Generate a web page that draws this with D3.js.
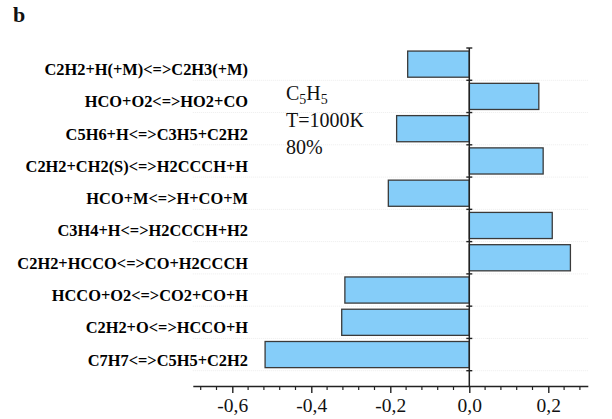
<!DOCTYPE html>
<html>
<head>
<meta charset="utf-8">
<script src="https://cdn.jsdelivr.net/npm/d3@7"></script>
<style>
  html, body { margin: 0; padding: 0; background: #fff; }
  svg { display: block; }
</style>
</head>
<body>
<svg id="chart" width="612" height="419"></svg>
<script>
// ---- data ----
const reactions = [
  "C2H2+H(+M)<=>C2H3(+M)",
  "HCO+O2<=>HO2+CO",
  "C5H6+H<=>C3H5+C2H2",
  "C2H2+CH2(S)<=>H2CCCH+H",
  "HCO+M<=>H+CO+M",
  "C3H4+H<=>H2CCCH+H2",
  "C2H2+HCCO<=>CO+H2CCCH",
  "HCCO+O2<=>CO2+CO+H",
  "C2H2+O<=>HCCO+H",
  "C7H7<=>C5H5+C2H2"
];
const sensitivity = [-0.156, 0.176, -0.184, 0.187, -0.205, 0.210, 0.256, -0.315, -0.323, -0.517];
const xTickValues = [-0.6, -0.4, -0.2, 0.0, 0.2];
const xTickLabels = ["-0,6", "-0,4", "-0,2", "0,0", "0,2"];
const xMinorTicks = [-0.68, -0.64, -0.56, -0.52, -0.48, -0.44, -0.36, -0.32, -0.28, -0.24,
                     -0.16, -0.12, -0.08, -0.04, 0.04, 0.08, 0.12, 0.16, 0.24, 0.28];
const annotation = { species: ["C", "5", "H", "5"], lines: ["T=1000K", "80%"] };

// ---- layout ----
const svg = d3.select("#chart");
const axisY = 386;
const plotTop = 48;
const bandBottom = 370.7;
const serif = "'Liberation Serif', 'Times New Roman', serif";

const x = d3.scaleLinear().domain([-0.7, 0.3]).range([192.8, 587.8]);
const y = d3.scaleBand().domain(reactions).range([plotTop, bandBottom])
  .paddingInner(0.19).paddingOuter(0.095);
const step = y.step();
const bandStart = d => y(d) - step * y.paddingInner() / 2;

// faint gridlines at band boundaries
const boundaries = reactions.map(d => bandStart(d)).concat([bandStart(reactions[reactions.length - 1]) + step]);
svg.append("g").selectAll("line").data(boundaries.slice(1)).join("line")
  .attr("x1", x(-0.7)).attr("x2", x(0.3))
  .attr("y1", d => d).attr("y2", d => d)
  .attr("stroke", "#ececec").attr("stroke-width", 1).attr("stroke-dasharray", "1,1");

// bars
svg.append("g").selectAll("rect").data(reactions).join("rect")
  .attr("x", (d, i) => x(Math.min(0, sensitivity[i])))
  .attr("width", (d, i) => Math.abs(x(sensitivity[i]) - x(0)))
  .attr("y", d => y(d))
  .attr("height", y.bandwidth())
  .attr("fill", "#85cdf9")
  .attr("stroke", "#3a3a3a")
  .attr("stroke-width", 1.3);

// x axis
const xAxis = d3.axisBottom(x).tickValues(xTickValues)
  .tickFormat((d, i) => xTickLabels[i]).tickSize(7).tickSizeOuter(0);
const gx = svg.append("g").attr("transform", `translate(0,${axisY})`).call(xAxis);
gx.select(".domain").attr("stroke", "#222").attr("stroke-width", 1.4);
gx.selectAll(".tick line").attr("stroke", "#222").attr("stroke-width", 1.4);
gx.selectAll(".tick text")
  .attr("font-family", serif)
  .attr("font-size", 19.5).attr("fill", "#111")
  .attr("y", 26).attr("dy", 0);
gx.append("g").selectAll("line").data(xMinorTicks).join("line")
  .attr("x1", d => x(d)).attr("x2", d => x(d))
  .attr("y1", 0).attr("y2", 4)
  .attr("stroke", "#222").attr("stroke-width", 1.2);

// vertical zero axis
svg.append("line")
  .attr("x1", x(0)).attr("x2", x(0))
  .attr("y1", plotTop).attr("y2", axisY)
  .attr("stroke", "#222").attr("stroke-width", 1.5);
svg.append("g").selectAll("line").data(boundaries).join("line")
  .attr("x1", x(0) - 3).attr("x2", x(0) + 3)
  .attr("y1", d => d).attr("y2", d => d)
  .attr("stroke", "#222").attr("stroke-width", 1.4);

// category labels
svg.append("g").selectAll("text").data(reactions).join("text")
  .attr("x", 248)
  .attr("y", d => y(d) + y.bandwidth() / 2 + 11)
  .attr("text-anchor", "end")
  .attr("font-family", serif)
  .attr("font-weight", "bold")
  .attr("font-size", 16.4)
  .attr("fill", "#000")
  .text(d => d);

// annotation
const ann = svg.append("g")
  .attr("font-family", serif)
  .attr("font-size", 20).attr("fill", "#111");
const sp = ann.append("text").attr("x", 286).attr("y", 99.5);
annotation.species.forEach((s, i) => {
  const t = sp.append("tspan").text(s);
  if (i % 2 === 1) t.attr("font-size", 14).attr("dy", 4);
  else if (i > 0) t.attr("dy", -4);
});
annotation.lines.forEach((s, i) => {
  ann.append("text").attr("x", 286).attr("y", 126.7 + i * 27.3).text(s);
});

// panel letter
svg.append("text").attr("x", 13).attr("y", 21.5)
  .attr("font-family", serif)
  .attr("font-weight", "bold").attr("font-size", 22).attr("fill", "#111")
  .text("b");
</script>
</body>
</html>
